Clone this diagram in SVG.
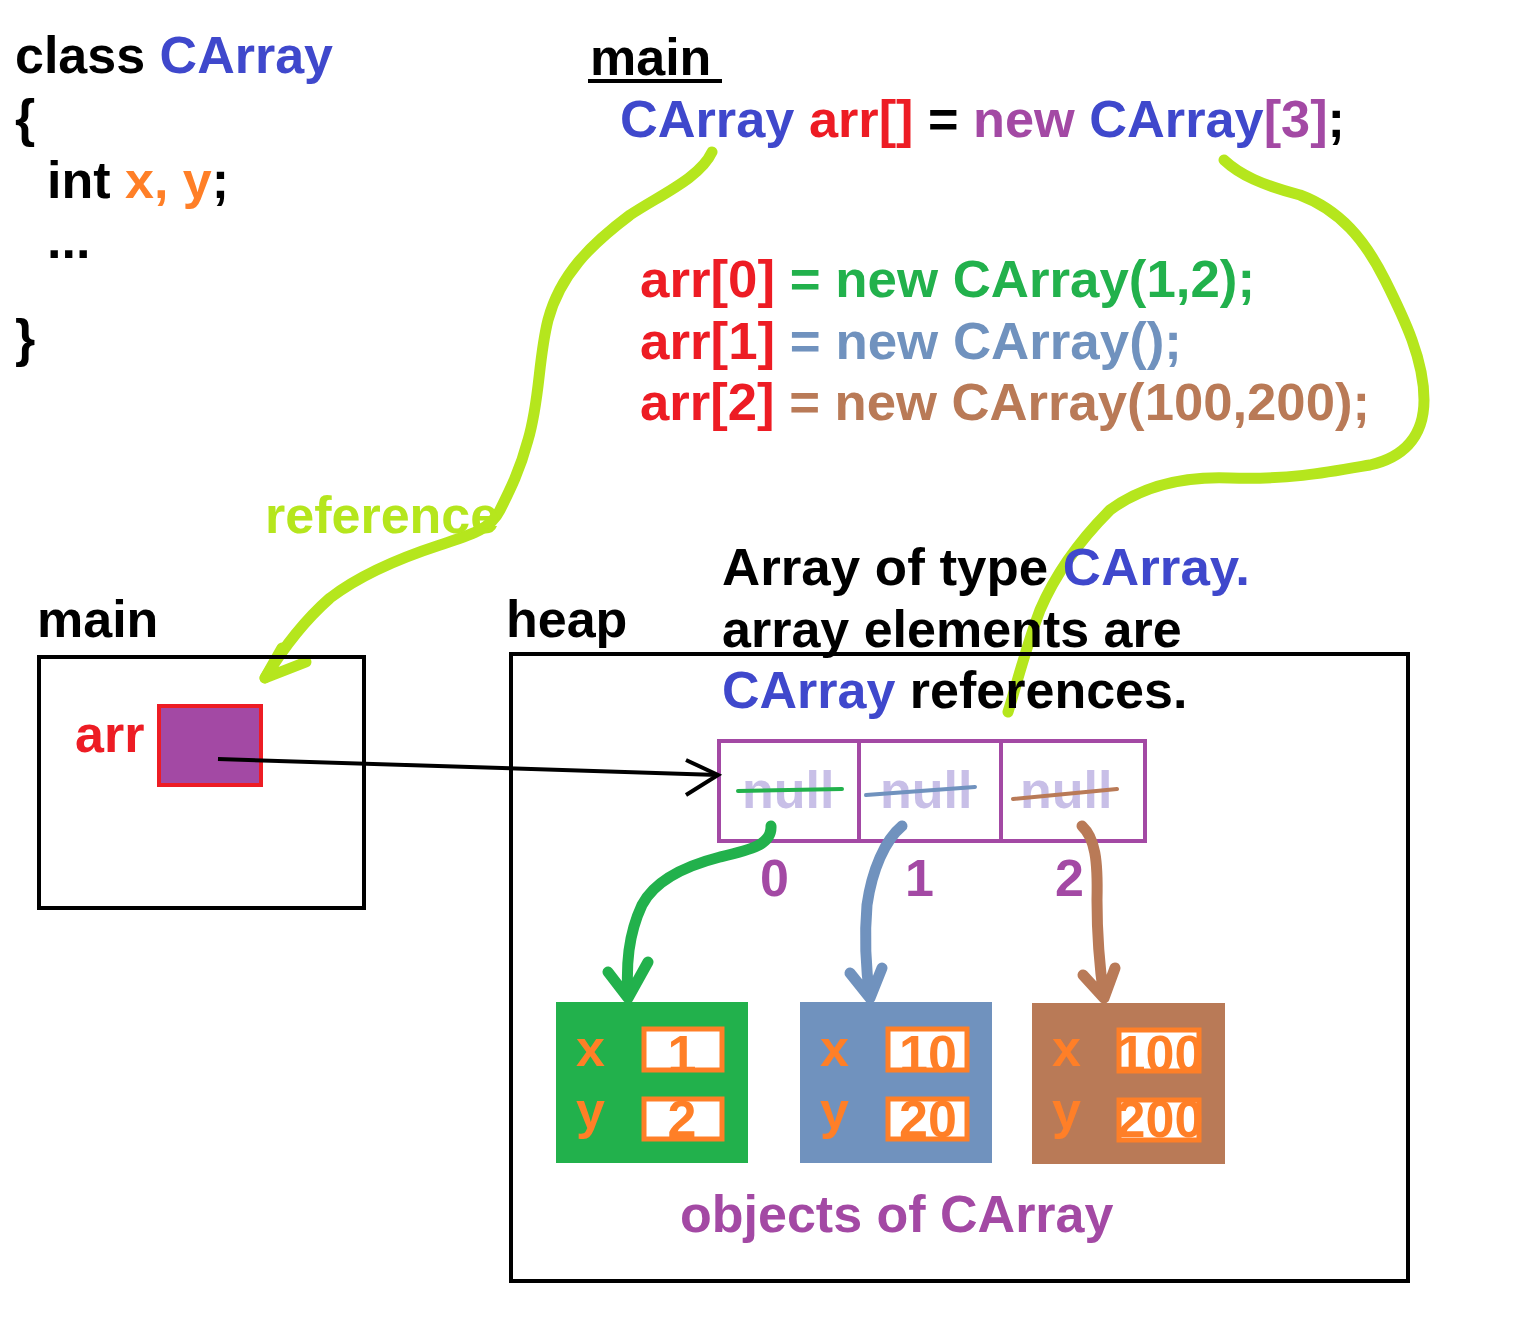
<svg xmlns="http://www.w3.org/2000/svg" width="1520" height="1336" viewBox="0 0 1520 1336">
<style>
text{font-family:"Liberation Sans",Arial,sans-serif;font-weight:bold;font-size:52px}
.k{fill:#000}.b{fill:#3f48cc}.o{fill:#ff7f27}.r{fill:#ed1c24}.p{fill:#a349a4}.g{fill:#22b14c}.s{fill:#7092be}.br{fill:#b97a57}.l{fill:#b5e61d}.lav{fill:#c8bfe7}
.lime{fill:none;stroke:#b5e61d;stroke-width:11;stroke-linecap:round;stroke-linejoin:round}
.box{fill:none;stroke:#000;stroke-width:4}
.val{fill:#fff;stroke:#ff7f27;stroke-width:5}
.arw{fill:none;stroke-width:11;stroke-linecap:round;stroke-linejoin:round}
</style>
<rect width="1520" height="1336" fill="#fff"/>

<g id="connectors-lime">
<path class="lime" d="M712,152 C700,178 660,195 630,215 C590,245 560,275 548,320 C538,360 540,400 528,440 C520,470 510,490 500,510 C490,530 470,535 440,545 C400,558 360,575 330,598 C305,620 285,645 265,678"/>
<path class="lime" d="M282,648 L265,678 L306,662"/>
<path class="lime" d="M1224,160 C1240,175 1262,185 1300,195 C1340,210 1365,240 1385,280 C1405,320 1424,360 1424,400 C1424,440 1400,458 1370,465 C1330,472 1290,480 1230,478 C1180,476 1140,488 1110,510 C1080,540 1055,575 1040,610 C1025,650 1015,690 1008,712"/>
</g>

<g id="class-def">
<text x="15" y="73"><tspan class="k">class </tspan><tspan class="b">CArray</tspan></text>
<text x="15" y="136" class="k">{</text>
<text x="47" y="198"><tspan class="k">int </tspan><tspan class="o">x, y</tspan><tspan class="k">;</tspan></text>
<text x="47" y="258" class="k">...</text>
<text x="15" y="356" class="k">}</text>
</g>

<g id="main-code">
<text x="590" y="75" class="k">main</text>
<rect x="588" y="79" width="134" height="4" fill="#000"/>
<text x="620" y="137" textLength="725" lengthAdjust="spacingAndGlyphs"><tspan class="b">CArray </tspan><tspan class="r">arr[]</tspan><tspan class="k"> = </tspan><tspan class="p">new </tspan><tspan class="b">CArray</tspan><tspan class="p">[3]</tspan><tspan class="k">;</tspan></text>
<text x="640" y="297" textLength="615" lengthAdjust="spacingAndGlyphs"><tspan class="r">arr[0]</tspan><tspan class="g"> = new CArray(1,2);</tspan></text>
<text x="640" y="359" textLength="542" lengthAdjust="spacingAndGlyphs"><tspan class="r">arr[1]</tspan><tspan class="s"> = new CArray();</tspan></text>
<text x="640" y="420" textLength="730" lengthAdjust="spacingAndGlyphs"><tspan class="r">arr[2]</tspan><tspan class="br"> = new CArray(100,200);</tspan></text>
</g>

<g id="reference-label">
<text x="265" y="533" class="l">reference</text>
</g>

<g id="main-frame">
<text x="37" y="637" class="k">main</text>
<rect x="39" y="657" width="325" height="251" class="box"/>
<text x="75" y="752" class="r">arr</text>
<rect x="159" y="706" width="102" height="79" fill="#a349a4" stroke="#ed1c24" stroke-width="4"/>
</g>

<g id="heap">
<text x="506" y="637" class="k">heap</text>
<rect x="511" y="654" width="897" height="627" class="box"/>
<text x="722" y="585" textLength="528" lengthAdjust="spacingAndGlyphs"><tspan class="k">Array of type </tspan><tspan class="b">CArray.</tspan></text>
<text x="722" y="647" class="k">array elements are</text>
<text x="722" y="708"><tspan class="b">CArray</tspan><tspan class="k"> references.</tspan></text>
</g>

<g id="array">
<rect x="719" y="741" width="426" height="100" fill="none" stroke="#a349a4" stroke-width="4"/>
<line x1="859" y1="741" x2="859" y2="841" stroke="#a349a4" stroke-width="4"/>
<line x1="1001" y1="741" x2="1001" y2="841" stroke="#a349a4" stroke-width="4"/>
<text x="742" y="808" class="lav">null</text>
<text x="880" y="808" class="lav">null</text>
<text x="1020" y="808" class="lav">null</text>
<line x1="738" y1="791" x2="842" y2="789" stroke="#22b14c" stroke-width="4" stroke-linecap="round"/>
<line x1="866" y1="795" x2="975" y2="787" stroke="#7092be" stroke-width="4" stroke-linecap="round"/>
<line x1="1013" y1="799" x2="1117" y2="789" stroke="#b97a57" stroke-width="4" stroke-linecap="round"/>
<text x="760" y="896" class="p">0</text>
<text x="905" y="896" class="p">1</text>
<text x="1055" y="896" class="p">2</text>
</g>

<g id="connectors">
<path d="M218,759 L718,775" stroke="#000" stroke-width="4" fill="none"/>
<path d="M686,760 L718,775 L686,795" stroke="#000" stroke-width="4" fill="none"/>
<path class="arw" stroke="#22b14c" d="M771,826 C772,845 750,850 720,857 C685,866 655,880 642,905 C628,935 626,965 628,998 M608,972 L628,998 L648,962"/>
<path class="arw" stroke="#7092be" d="M902,826 C885,840 872,870 867,905 C864,940 866,970 870,998 M850,973 L870,998 L882,968"/>
<path class="arw" stroke="#b97a57" d="M1082,826 C1095,838 1098,860 1097,900 C1097,940 1100,970 1104,998 M1083,975 L1104,998 L1115,968"/>
</g>

<g id="obj0">
<rect x="556" y="1002" width="192" height="161" fill="#22b14c"/>
<text x="576" y="1066" class="o">x</text>
<text x="576" y="1128" class="o">y</text>
<rect x="644" y="1029" width="78" height="41" class="val"/>
<rect x="644" y="1099" width="78" height="40" class="val"/>
<text x="682" y="1072" class="o" text-anchor="middle">1</text>
<text x="682" y="1137" class="o" text-anchor="middle">2</text>
</g>

<g id="obj1">
<rect x="800" y="1002" width="192" height="161" fill="#7092be"/>
<text x="820" y="1066" class="o">x</text>
<text x="820" y="1128" class="o">y</text>
<rect x="888" y="1029" width="79" height="41" class="val"/>
<rect x="888" y="1099" width="79" height="40" class="val"/>
<text x="928" y="1072" class="o" text-anchor="middle">10</text>
<text x="928" y="1137" class="o" text-anchor="middle">20</text>
</g>

<g id="obj2">
<rect x="1032" y="1003" width="193" height="161" fill="#b97a57"/>
<text x="1052" y="1066" class="o">x</text>
<text x="1052" y="1128" class="o">y</text>
<rect x="1119" y="1030" width="80" height="41" class="val"/>
<rect x="1119" y="1100" width="80" height="40" class="val"/>
<text x="1160" y="1072" class="o" text-anchor="middle">100</text>
<text x="1160" y="1137" class="o" text-anchor="middle">200</text>
</g>

<g id="objects-label">
<text x="680" y="1232" class="p">objects of CArray</text>
</g>
</svg>
